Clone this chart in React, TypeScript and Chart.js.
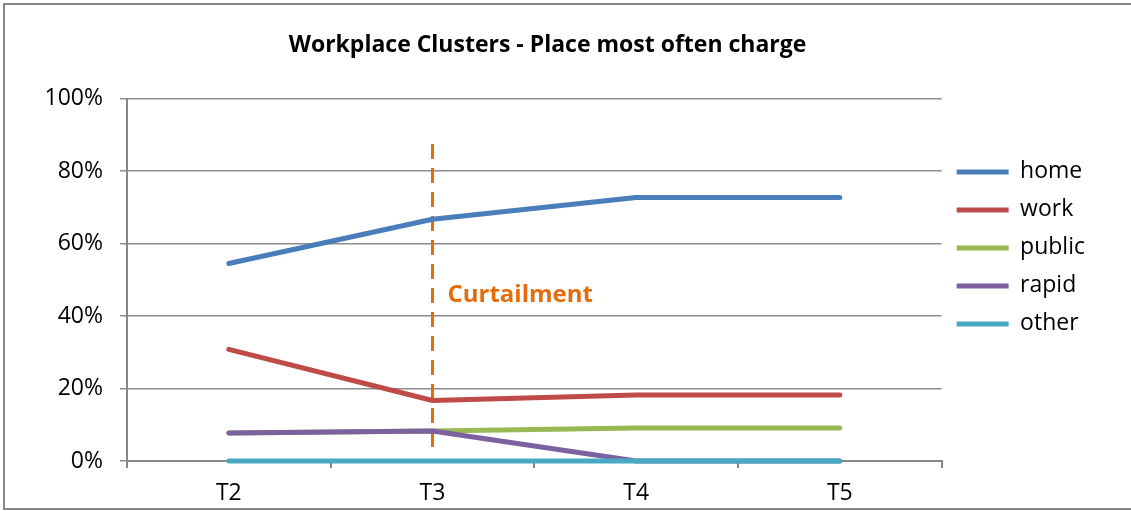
import React, { useEffect, useRef } from "react";
import { Chart, registerables } from "chart.js";

Chart.register(...registerables);

const categories = ["T2", "T3", "T4", "T5"];
const homeValues = [54.5, 66.7, 72.7, 72.7];
const workValues = [30.8, 16.7, 18.2, 18.2];
const publicValues = [7.7, 8.3, 9.1, 9.1];
const rapidValues = [7.7, 8.3, 0, 0];
const otherValues = [0, 0, 0, 0];
const seriesNames = ["home", "work", "public", "rapid", "other"];
const seriesColors = ["#4A7EBB", "#BE4B48", "#98B954", "#7D60A0", "#46AAC5"];
const titleText = "Workplace Clusters - Place most often charge";
const curtailmentCategory = "T3";
const curtailmentRange = [1.5, 87.5];
const curtailmentLabel = "Curtailment";
const curtailmentLabelValue = 45.9;

const FONT = "'Open Sans', 'Noto Sans', sans-serif";

const framePlugin = {
  id: "frame",
  beforeDraw(chart: any) {
    const ctx = chart.ctx;
    ctx.save();
    ctx.fillStyle = "#ffffff";
    ctx.fillRect(0, 0, chart.width, chart.height);
    ctx.strokeStyle = "#868686";
    ctx.lineWidth = 2;
    ctx.strokeRect(4, 4, chart.width + 10, chart.height - 6);
    ctx.restore();
  },
};

const curtailmentPlugin = {
  id: "curtailment",
  beforeDatasetsDraw(chart: any) {
    const ctx = chart.ctx;
    const xs = chart.scales.x;
    const ys = chart.scales.y;
    const x = xs.getPixelForValue(categories.indexOf(curtailmentCategory));
    ctx.save();
    ctx.strokeStyle = "#E46C0A";
    ctx.lineWidth = 3;
    ctx.setLineDash([15, 9]);
    ctx.beginPath();
    ctx.moveTo(x, ys.getPixelForValue(curtailmentRange[1]));
    ctx.lineTo(x, ys.getPixelForValue(curtailmentRange[0]));
    ctx.stroke();
    ctx.setLineDash([]);
    ctx.fillStyle = "#E46C0A";
    ctx.font = `bold 24px ${FONT}`;
    ctx.textAlign = "left";
    ctx.textBaseline = "middle";
    ctx.fillText(curtailmentLabel, x + 15, ys.getPixelForValue(curtailmentLabelValue));
    ctx.restore();
  },
};

export default function App() {
  const ref = useRef<HTMLCanvasElement>(null);
  useEffect(() => {
    document.body.style.margin = "0";
    const allValues = [homeValues, workValues, publicValues, rapidValues, otherValues];
    const chart = new Chart(ref.current as HTMLCanvasElement, {
      type: "line",
      data: {
        labels: categories,
        datasets: seriesNames.map((name, i) => ({
          label: name,
          data: allValues[i],
          borderColor: seriesColors[i],
          backgroundColor: seriesColors[i],
          borderWidth: 5,
          borderCapStyle: "round",
          borderJoinStyle: "round",
          pointRadius: 0,
          tension: 0,
          clip: false,
          order: seriesNames.length - i,
        })),
      },
      options: {
        animation: false,
        responsive: false,
        layout: { padding: { left: 0, right: 36, top: 0, bottom: 0 } },
        plugins: {
          title: {
            display: true,
            text: titleText,
            color: "#000",
            font: { family: FONT, size: 23, weight: "bold" },
            padding: { top: 32, bottom: 39 },
          },
          legend: {
            position: "right",
            align: "start",
            title: { display: true, text: "", font: { size: 12 }, padding: { top: 116, bottom: 15 } },
            labels: {
              usePointStyle: true,
              pointStyle: "line",
              pointStyleWidth: 52,
              boxHeight: 23,
              padding: 15,
              color: "#000",
              font: { family: FONT, size: 23 },
              sort: (a: any, b: any) => a.datasetIndex - b.datasetIndex,
            },
          },
          tooltip: { enabled: false },
        },
        scales: {
          x: {
            offset: true,
            grid: {
              display: true,
              drawOnChartArea: false,
              offset: true,
              tickLength: 7,
              color: "#868686",
              lineWidth: 2,
            },
            border: { display: true, color: "#868686", width: 2 },
            ticks: { color: "#000", font: { family: FONT, size: 23 }, padding: 12 },
            afterFit: (s: any) => {
              s.height = 50;
            },
          },
          y: {
            min: 0,
            max: 100,
            ticks: {
              stepSize: 20,
              color: "#000",
              font: { family: FONT, size: 23 },
              padding: 17,
              callback: (v: any) => `${v}%`,
            },
            grid: { color: "#8c8c8c", lineWidth: 1.5, tickLength: 7 },
            border: { display: true, color: "#868686", width: 2 },
            afterFit: (s: any) => {
              s.width = 127;
            },
          },
        },
      },
      plugins: [framePlugin, curtailmentPlugin],
    });
    return () => chart.destroy();
  }, []);
  return <canvas ref={ref} width={1131} height={511} style={{ display: "block" }} />;
}
